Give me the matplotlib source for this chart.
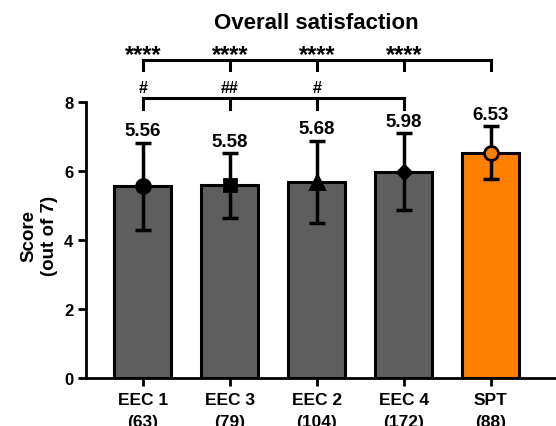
import matplotlib
matplotlib.use("Agg")
import matplotlib.pyplot as plt
import numpy as np

plt.rcParams['font.family'] = ['Liberation Sans', 'DejaVu Sans']
plt.rcParams['font.weight'] = 'bold'

groups = ["EEC 1", "EEC 3", "EEC 2", "EEC 4", "SPT"]
counts = [63, 79, 104, 172, 88]
means = [5.56, 5.58, 5.68, 5.98, 6.53]
sds = [1.26, 0.93, 1.20, 1.11, 0.77]
markers = ["o", "s", "^", "D", "o"]
colors = ["#5e5e5e", "#5e5e5e", "#5e5e5e", "#5e5e5e", "#ff7f00"]
stars = ["****", "****", "****", "****"]
hashes = ["#", "##", "#"]

fig = plt.figure(figsize=(5.56, 4.27), dpi=100)
ax = fig.add_axes([86 / 556, 48 / 427, 470 / 556, 276 / 427])

x = np.arange(len(groups))
ax.bar(x, means, width=0.655, color=colors, edgecolor="black", linewidth=2.2, zorder=2)
sizes = {"o": 10, "s": 9, "^": 10, "D": 7.5}
for i in range(len(groups)):
    ax.errorbar(x[i], means[i], yerr=sds[i], fmt="none", ecolor="black",
                elinewidth=2.5, capsize=6, capthick=2.5, zorder=3)
    mfc = "black" if i < 4 else "#ff7f00"
    ax.plot(x[i], means[i], marker=markers[i], markersize=sizes[markers[i]], color=mfc,
            markeredgecolor="black", markeredgewidth=2, zorder=4, clip_on=False)
    ax.annotate(f"{means[i]:.2f}", (x[i], means[i] + sds[i]), xytext=(0, 2.5),
                textcoords="offset points", ha="center", va="bottom",
                fontsize=13.5, fontweight="bold")

# brackets
top_y, top_tick = 9.22, 8.93
ax.plot([0, 4], [top_y, top_y], color="black", lw=2.2, clip_on=False,
        solid_capstyle="projecting")
for i in range(5):
    ax.plot([i, i], [top_tick, top_y], color="black", lw=2.2, clip_on=False)
for i, s in enumerate(stars):
    ax.text(i, 9.2, s, ha="center", va="baseline", fontsize=17, fontweight="bold")

mid_y, mid_tick = 8.11, 7.80
ax.plot([0, 3], [mid_y, mid_y], color="black", lw=2.2, clip_on=False,
        solid_capstyle="projecting")
for i in range(4):
    ax.plot([i, i], [mid_tick, mid_y], color="black", lw=2.2, clip_on=False)
for i, h in enumerate(hashes):
    ax.text(i, 8.29, h, ha="center", va="baseline", fontsize=11.5, fontweight="bold")

ax.set_ylim(0, 8)
ax.set_xlim(-0.655, 4.75)
ax.set_yticks([0, 2, 4, 6, 8])
ax.set_xticks(x)
ax.set_xticklabels([f"{g}\n({n})" for g, n in zip(groups, counts)], linespacing=1.6)
ax.tick_params(axis="both", width=2, length=6, direction="out")
ax.tick_params(axis="x", labelsize=12.5, pad=4)
ax.tick_params(axis="y", labelsize=12, pad=3)
for lab in ax.get_xticklabels() + ax.get_yticklabels():
    lab.set_fontweight("bold")
ax.spines["top"].set_visible(False)
ax.spines["right"].set_visible(False)
ax.spines["left"].set_linewidth(2)
ax.spines["bottom"].set_linewidth(2)
ax.spines["left"].set_bounds(0, 8)

fig.text(39 / 556, 1 - 236 / 427, "Score\n(out of 7)", rotation=90, ha="center",
         va="center", multialignment="center", fontsize=13.5, fontweight="bold",
         linespacing=1.3)

fig.text(316.5 / 556, 1 - 23.5 / 427, "Overall satisfaction", ha="center", va="center",
         fontsize=16, fontweight="bold")

fig.savefig("out.png", dpi=100)
